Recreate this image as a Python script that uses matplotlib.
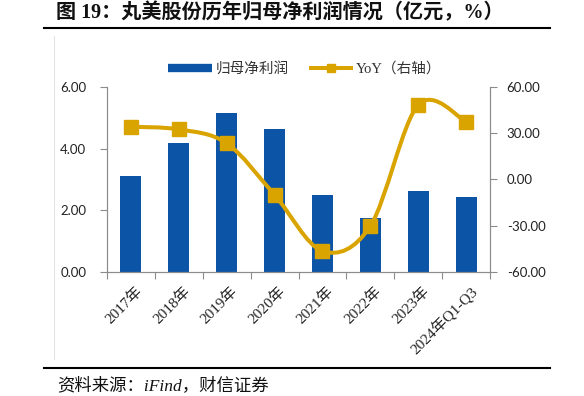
import matplotlib
matplotlib.use("Agg")
import matplotlib.pyplot as plt
import matplotlib.transforms as mtransforms
from matplotlib.lines import Line2D
from matplotlib.path import Path
from matplotlib.patches import PathPatch
import numpy as np

categories = ["2017年", "2018年", "2019年", "2020年", "2021年", "2022年", "2023年", "2024年Q1-Q3"]
net_profit = [3.12, 4.17, 5.17, 4.65, 2.51, 1.76, 2.62, 2.42]
yoy = [34.2, 32.5, 23.5, -10.0, -46.4, -30.2, 48.3, 37.5]
left_ticks = [0, 2, 4, 6]
right_ticks = [-60, -30, 0, 30, 60]

BLUE = "#0B54A6"
GOLD = "#D9A400"
GRAY = "#8C8C8C"
CJK = "Noto Sans CJK SC"
SERIF_MIX = ["Liberation Serif", CJK]

W, H = 584, 396
fig = plt.figure(figsize=(W / 100, H / 100), dpi=100)

ax = fig.add_axes([107 / W, 1 - 272 / H, (490 - 107) / W, (272 - 87) / H])
ax2 = ax.twinx()

x = np.arange(len(categories))
ax.bar(x, net_profit, width=0.44, color=BLUE, zorder=2)
ax.set_xlim(-0.5, len(categories) - 0.5)
ax.set_ylim(0, 6)
ax.set_yticks(left_ticks)
ax.set_yticklabels([f"{v:.2f}" for v in left_ticks], fontfamily="Lato", fontsize=9.5, color="#222222")
ax.tick_params(axis="y", direction="out", length=5, width=0.8, color=GRAY, pad=10)

ax.set_xticks(x)
ax.set_xticklabels(categories, rotation=45, ha="right", va="top", rotation_mode="anchor",
                   fontfamily=SERIF_MIX, fontsize=11, color="#222222")
ax.tick_params(axis="x", which="major", length=0, pad=9)
ax.set_xticks(np.arange(-0.5, len(categories), 1.0), minor=True)
ax.tick_params(axis="x", which="minor", direction="out", length=5, width=0.8, color=GRAY)
shift = mtransforms.ScaledTranslation(4 / 100, 0, fig.dpi_scale_trans)
for lbl in ax.get_xticklabels():
    lbl.set_transform(lbl.get_transform() + shift)

for a in (ax, ax2):
    a.spines["top"].set_visible(False)
    for s in ("left", "right", "bottom"):
        a.spines[s].set_color(GRAY)
        a.spines[s].set_linewidth(0.8)

ax2.set_ylim(-60, 60)
ax2.set_yticks(right_ticks)
ax2.set_yticklabels([f"{v:.2f}" for v in right_ticks], fontfamily="Lato", fontsize=9.5, color="#222222")
ax2.tick_params(axis="y", direction="out", length=5, width=0.8, color=GRAY, pad=7)

# Smoothed line (Catmull-Rom style Bezier through the data points, like Excel smoothing)
px = list(x.astype(float))
py = list(yoy)
n = len(px)
verts = [(px[0], py[0])]
codes = [Path.MOVETO]
for i in range(n - 1):
    i0 = max(i - 1, 0)
    i3 = min(i + 2, n - 1)
    c1 = (px[i] + (px[i + 1] - px[i0]) / 6.0, py[i] + (py[i + 1] - py[i0]) / 6.0)
    c2 = (px[i + 1] - (px[i3] - px[i]) / 6.0, py[i + 1] - (py[i3] - py[i]) / 6.0)
    verts += [c1, c2, (px[i + 1], py[i + 1])]
    codes += [Path.CURVE4] * 3
curve = PathPatch(Path(verts, codes), fill=False, edgecolor=GOLD, linewidth=2.9,
                  transform=ax2.transData, zorder=3, capstyle="round", joinstyle="round")
ax2.add_patch(curve)
ax2.plot(x, yoy, linestyle="none", marker="s", markersize=9.5, color=GOLD, zorder=4)

# Legend
handles = [
    Line2D([], [], color=BLUE, linewidth=6, solid_capstyle="butt"),
    Line2D([], [], color=GOLD, linewidth=2.9, marker="s", markersize=5.5, solid_capstyle="butt"),
]
labels = ["归母净利润", "YoY（右轴）"]
leg = fig.legend(handles, labels, loc="center", bbox_to_anchor=(0.522, 1 - 69 / H), ncol=2,
                 frameon=False, handlelength=3.0, handletextpad=0.25, columnspacing=1.4,
                 prop={"family": [CJK], "size": 10.5})
for t in leg.get_texts():
    t.set_color("#333333")
leg.get_texts()[1].set_fontfamily(SERIF_MIX)

# Title, rules and source
fig.text(56 / W, 1 - 13 / H, "图 19：丸美股份历年归母净利润情况（亿元，%）",
         fontfamily=SERIF_MIX, fontweight="bold", fontsize=14.5, va="center", ha="left", color="#111111")
fig.add_artist(Line2D([44 / W, 550 / W], [1 - 28 / H, 1 - 28 / H], color="black", linewidth=1.5))
fig.add_artist(Line2D([44 / W, 550 / W], [1 - 368 / H, 1 - 368 / H], color="black", linewidth=1.5))
fig.add_artist(Line2D([54 / W, 54 / W], [1 - 36 / H, 1 - 359 / H], color="#E3E3E3", linewidth=0.8))
fig.text(57 / W, 1 - 386 / H, "资料来源：iFind，财信证券", fontfamily=SERIF_MIX, fontstyle="italic",
         fontsize=12.5, va="center", ha="left", color="#111111")

fig.savefig("out.png", dpi=100)
